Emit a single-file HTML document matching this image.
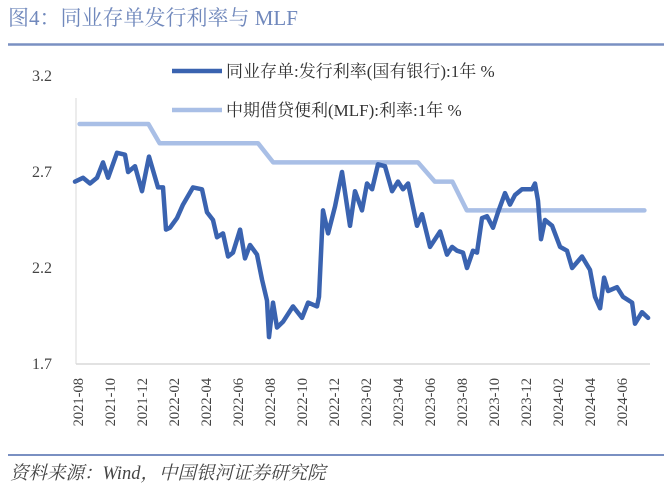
<!DOCTYPE html>
<html><head><meta charset="utf-8">
<style>
body{margin:0;background:#fff;}
#wrap{position:relative;width:666px;height:492px;overflow:hidden;background:#fff;}
svg{position:absolute;left:0;top:0;}
</style></head>
<body>
<div id="wrap">
<svg id="chart" width="666" height="492">
<text x="8" y="25" font-family="'Liberation Serif','Noto Serif CJK SC',serif" font-size="21" fill="#7088bc">图4：同业存单发行利率与 MLF</text>
<line x1="8" y1="44.5" x2="664" y2="44.5" stroke="#7a90c2" stroke-width="2.5"/>
<line x1="76" y1="364" x2="650" y2="364" stroke="#d9d9d9" stroke-width="1.5"/>
<line x1="76" y1="98" x2="76" y2="364" stroke="#d9d9d9" stroke-width="1"/>
<g id="yticks"></g><g id="xticks"></g><g id="series"></g>
<g>
<line x1="172" y1="71" x2="222" y2="71" stroke="#3a63b0" stroke-width="4.5"/>
<text x="226" y="77" font-family="'Liberation Serif','Noto Serif CJK SC',serif" font-size="17" fill="#333">同业存单:发行利率(国有银行):1年 %</text>
<line x1="172" y1="110" x2="222" y2="110" stroke="#a9bfe6" stroke-width="4.5"/>
<text x="226" y="116" font-family="'Liberation Serif','Noto Serif CJK SC',serif" font-size="17" fill="#333">中期借贷便利(MLF):利率:1年 %</text>
</g>
<line x1="8" y1="455" x2="664" y2="455" stroke="#7a90c2" stroke-width="2"/>
<text x="10" y="479" font-family="'Liberation Serif','Noto Serif CJK SC',serif" font-style="italic" font-size="18.5" fill="#444">资料来源：Wind，中国银河证券研究院</text>
</svg>
</div>
<script>
const yTicks=[1.7,2.2,2.7,3.2];
const xLabels=["2021-08","2021-10","2021-12","2022-02","2022-04","2022-06","2022-08","2022-10","2022-12","2023-02","2023-04","2023-06","2023-08","2023-10","2023-12","2024-02","2024-04","2024-06"];
const ncdMonths=[-0.19,0.31,0.75,1.19,1.56,1.88,2.44,2.94,3.13,3.56,4.0,4.44,5.0,5.31,5.5,5.75,6.19,6.56,7.19,7.75,8.06,8.44,8.69,9.06,9.38,9.69,10.13,10.44,10.75,11.19,11.5,11.81,11.94,12.19,12.44,12.81,13.44,14.0,14.38,14.94,15.06,15.31,15.63,16.06,16.5,17.0,17.31,17.75,18.06,18.38,18.75,19.19,19.63,20.0,20.31,20.63,21.19,21.5,22.0,22.63,23.06,23.38,23.69,24.06,24.31,24.69,24.94,25.25,25.56,25.94,26.25,26.69,27.0,27.31,27.75,28.38,28.56,28.75,28.94,29.19,29.63,30.13,30.56,30.88,31.5,32.0,32.31,32.63,32.88,33.13,33.69,34.06,34.63,34.81,35.25,35.63];
const ncdValues=[2.65,2.67,2.64,2.67,2.75,2.67,2.80,2.79,2.70,2.73,2.60,2.78,2.62,2.62,2.40,2.41,2.46,2.53,2.62,2.61,2.49,2.45,2.36,2.38,2.26,2.28,2.40,2.25,2.32,2.27,2.14,2.03,1.84,2.02,1.89,1.92,2.00,1.94,2.02,2.00,2.05,2.50,2.38,2.52,2.70,2.42,2.60,2.50,2.64,2.61,2.74,2.73,2.60,2.65,2.61,2.64,2.42,2.48,2.31,2.39,2.27,2.31,2.29,2.28,2.20,2.29,2.28,2.46,2.47,2.41,2.49,2.59,2.53,2.58,2.61,2.61,2.64,2.55,2.35,2.45,2.42,2.31,2.29,2.20,2.26,2.19,2.05,1.99,2.15,2.08,2.10,2.05,2.02,1.91,1.97,1.94];
const mlfMonths=[0.1,4.4,5.1,11.25,12.2,21.25,22.3,23.4,24.3,35.4];
const mlfValues=[2.95,2.95,2.85,2.85,2.75,2.75,2.65,2.65,2.50,2.50];
const NS="http://www.w3.org/2000/svg";
function xS(m){return 78+m*16;}
function yS(v){return 364-(v-1.7)*192;}
const yg=document.getElementById('yticks');
yTicks.forEach(function(v){
  const t=document.createElementNS(NS,'text');
  
  
  t.setAttribute('x',52);t.setAttribute('y',yS(v)+5);
  t.setAttribute('text-anchor','end');
  t.setAttribute('font-family',"'Liberation Serif',serif");
  t.setAttribute('font-size','16');t.setAttribute('fill','#444');
  t.textContent=v.toFixed(1);yg.appendChild(t);
});
const xg=document.getElementById('xticks');
xLabels.forEach(function(l,i){
  const t=document.createElementNS(NS,'text');
  
  
  const x=xS(i*2)+5,y=378;
  t.setAttribute('transform','translate('+x+','+y+') rotate(-90)');
  t.setAttribute('text-anchor','end');
  t.setAttribute('font-family',"'Liberation Serif',serif");
  t.setAttribute('font-size','14.5');t.setAttribute('fill','#444');
  t.textContent=l;xg.appendChild(t);
});
const sg=document.getElementById('series');
function line(ms,vs,col,w,name){
  const p=document.createElementNS(NS,'polyline');
  
  
  p.setAttribute('points',ms.map(function(m,i){return xS(m).toFixed(1)+','+yS(vs[i]).toFixed(1);}).join(' '));
  p.setAttribute('fill','none');p.setAttribute('stroke',col);p.setAttribute('stroke-width',w);
  p.setAttribute('stroke-linejoin','round');p.setAttribute('stroke-linecap','round');
  sg.appendChild(p);
}
line(mlfMonths,mlfValues,'#a9bfe6',4.5,'mlf-line');
line(ncdMonths,ncdValues,'#3a63b0',4.5,'ncd-rate-line');
</script>
</body></html>
